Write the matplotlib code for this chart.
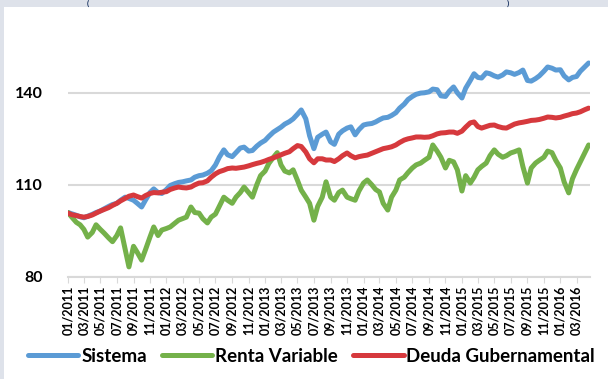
import pandas as pd
import matplotlib
matplotlib.use("Agg")
import matplotlib.pyplot as plt
import matplotlib.dates as mdates
from matplotlib.patches import Rectangle

# semi-monthly observations, jan 2011 -> apr 2016
dates = pd.date_range("2011-01-01", periods=128, freq="SMS")

sistema = [
    101.0, 100.6, 100.1, 99.6, 99.3, 99.8, 100.4, 101.0, 101.5, 102.2,
    103.0, 103.6, 104.0, 105.0, 106.0, 105.6, 105.0, 104.0, 102.8, 105.0,
    107.5, 108.7, 107.5, 107.2, 108.5, 109.8, 110.4, 110.8, 111.0, 111.3,
    111.6, 112.5, 113.0, 113.2, 113.8, 114.6, 116.5, 119.0, 121.4, 119.8,
    119.2, 120.5, 122.0, 122.3, 121.0, 121.2, 122.6, 123.6, 124.5, 125.8,
    127.2, 128.0, 128.8, 129.8, 130.6, 131.5, 133.0, 134.4, 131.5, 126.0,
    121.8, 125.5, 126.5, 127.2, 124.0, 123.2, 126.5, 127.6, 128.5, 128.9,
    126.3, 128.0, 129.5, 129.8, 130.0, 130.5, 131.2, 131.8, 132.0, 132.6,
    133.5, 135.0, 136.3, 137.8, 138.8, 139.5, 139.9, 140.0, 140.3, 141.2,
    141.0, 139.0, 138.8, 140.5, 141.9, 140.0, 138.3, 141.5, 144.0, 146.2,
    145.0, 144.8, 146.5, 146.2, 145.5, 145.1, 145.8, 146.8, 146.5, 146.0,
    146.6, 147.4, 144.0, 143.8, 144.6, 145.5, 147.0, 148.4, 148.0, 147.4,
    147.5, 145.5, 144.2, 145.0, 145.3, 147.0, 148.5, 149.7,
]

renta_variable = [
    101.0, 99.5, 97.8, 97.0, 95.5, 93.0, 94.5, 97.0, 95.5, 94.3,
    92.7, 91.5, 93.5, 96.0, 89.0, 83.3, 90.0, 88.0, 85.5, 88.8,
    93.0, 96.3, 93.5, 95.3, 95.8, 96.3, 97.5, 98.5, 99.0, 99.5,
    102.8, 101.0, 100.8, 99.0, 97.6, 99.5, 100.5, 103.0, 106.0, 105.0,
    104.0, 106.0, 107.5, 109.3, 107.5, 106.0, 110.0, 113.0, 114.5, 117.0,
    119.0, 120.5, 116.5, 114.5, 113.9, 114.9, 111.5, 108.3, 106.0, 104.0,
    98.5, 103.0, 106.0, 111.0, 106.0, 105.0, 107.5, 108.3, 106.0, 105.5,
    105.0, 108.0, 110.6, 111.6, 110.0, 108.5, 107.7, 104.0, 101.8, 106.0,
    108.3, 111.6, 112.5, 114.0, 115.5, 116.5, 117.1, 118.0, 119.0, 123.0,
    121.0, 119.0, 115.5, 118.0, 117.5, 114.9, 108.0, 113.0, 110.6, 112.5,
    114.9, 116.0, 117.1, 119.5, 121.4, 120.0, 119.0, 119.5, 120.4, 120.8,
    121.4, 116.0, 110.6, 115.5, 117.1, 118.0, 119.0, 121.0, 120.5, 118.0,
    115.5, 111.0, 107.4, 112.0, 115.0, 117.5, 120.5, 123.0,
]

deuda_gub = [
    100.8, 100.3, 100.0, 99.7, 99.5, 99.7, 100.2, 100.8, 101.5, 102.0,
    102.6, 103.3, 104.0, 104.8, 105.6, 106.3, 106.7, 106.2, 105.7, 106.5,
    107.2, 107.5, 107.4, 107.6, 107.8, 108.5, 109.0, 109.3, 109.1, 109.0,
    109.3, 110.0, 110.6, 110.7, 111.3, 112.5, 113.6, 114.3, 114.8, 115.3,
    115.5, 115.4, 115.6, 115.8, 116.2, 116.6, 117.0, 117.3, 117.8, 118.3,
    118.8, 119.3, 119.8, 120.3, 120.8, 121.8, 122.8, 122.5, 120.7, 118.5,
    117.2, 118.5, 118.5, 118.1, 118.1, 117.6, 118.5, 119.5, 120.4, 119.5,
    118.8, 119.2, 119.5, 119.7, 120.3, 120.8, 121.3, 121.8, 122.1, 122.4,
    123.0, 123.8, 124.6, 125.0, 125.3, 125.6, 125.6, 125.5, 125.6, 126.0,
    126.6, 126.9, 127.0, 127.2, 127.2, 126.8, 127.5, 128.8, 130.2, 130.5,
    129.0, 128.5, 129.0, 129.4, 129.5, 129.0, 128.6, 128.5, 129.2, 129.8,
    130.2, 130.4, 130.7, 131.0, 131.1, 131.3, 131.7, 132.1, 132.0, 131.8,
    132.0, 132.4, 132.8, 133.2, 133.4, 133.8, 134.5, 135.0,
]

y_ticks = [80, 110, 140]

plt.rcParams["font.family"] = ["Lato", "DejaVu Sans"]

fig = plt.figure(figsize=(6.08, 3.79), dpi=100, facecolor="#dee2ea")
# white panel inside the grey frame
fig.patches.append(Rectangle((4 / 608, 0), 1, 1 - 7 / 379, transform=fig.transFigure,
                             facecolor="white", edgecolor="none", zorder=-5))

# title brackets peeking in at the very top
fig.text(88 / 608, 1.0, "(", color="#1f3864", fontsize=6, fontweight="bold",
         ha="center", va="top")
fig.text(508 / 608, 1.0, ")", color="#1f3864", fontsize=6, fontweight="bold",
         ha="center", va="top")

ax = fig.add_axes([68 / 608, 1 - 277 / 379, 522 / 608, (277 - 37.5) / 379])
ax.set_facecolor("none")

ax.plot(dates, sistema, color="#5b9bd5", lw=3.6, label="Sistema", solid_capstyle="round")
ax.plot(dates, renta_variable, color="#74b14a", lw=3.6, label="Renta Variable",
        solid_capstyle="round")
ax.plot(dates, deuda_gub, color="#d6393d", lw=3.6, label="Deuda Gubernamental",
        solid_capstyle="round")

ax.set_ylim(80, 158)
ax.set_xlim(pd.Timestamp("2011-01-01"), pd.Timestamp("2016-04-20"))
ax.set_yticks(y_ticks)
ax.yaxis.grid(True, color="#d9d9d9", lw=1.5)
ax.set_axisbelow(True)

ax.xaxis.set_major_locator(mdates.MonthLocator(bymonth=[1, 3, 5, 7, 9, 11]))
ax.xaxis.set_major_formatter(mdates.DateFormatter("%m/%Y"))
plt.setp(ax.get_xticklabels(), rotation=90, fontsize=9, fontweight="bold")
plt.setp(ax.get_yticklabels(), fontsize=11.5, fontweight="bold")
ax.tick_params(axis="x", length=4, color="#d9d9d9", pad=2)
ax.tick_params(axis="y", length=0, pad=18)

for side in ["top", "right", "left"]:
    ax.spines[side].set_visible(False)
ax.spines["bottom"].set_color("#d9d9d9")
ax.spines["bottom"].set_linewidth(1.5)

fig.legend(loc="center", bbox_to_anchor=(0.512, 1 - 356 / 379), ncol=3, frameon=False,
           prop={"size": 13.5, "weight": "bold"}, handlelength=2.7, handletextpad=0.15,
           columnspacing=0.8, borderaxespad=0)

fig.savefig("out.png", dpi=100, facecolor=fig.get_facecolor())
